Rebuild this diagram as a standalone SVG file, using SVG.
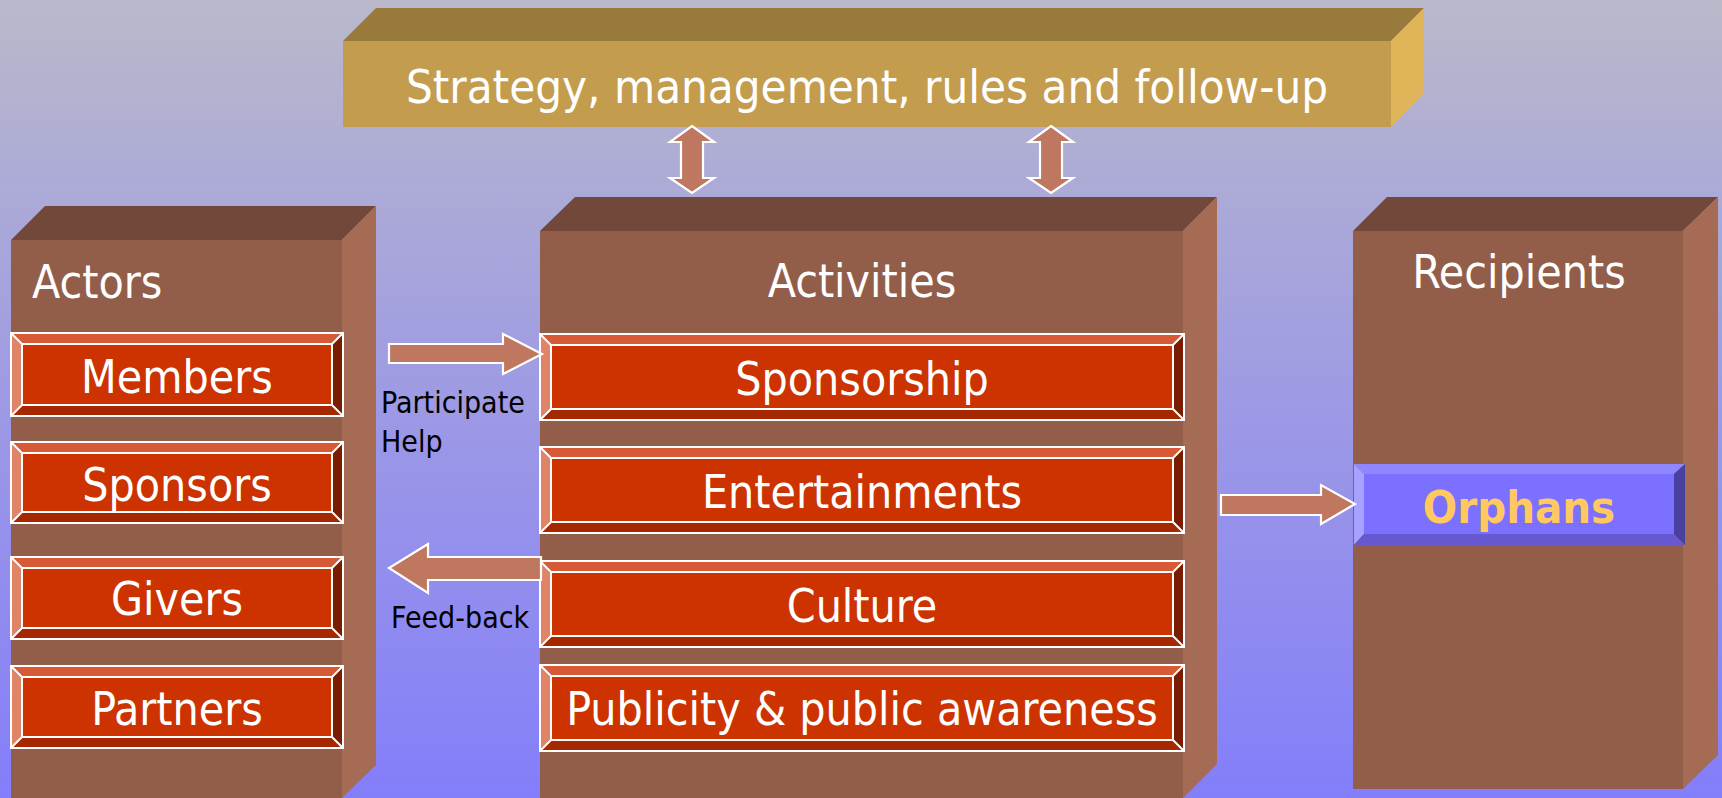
<svg xmlns="http://www.w3.org/2000/svg" width="1722" height="798" viewBox="0 0 1722 798">
<defs>
<linearGradient id="bg" x1="0" y1="0" x2="0" y2="1">
<stop offset="0" stop-color="#B9B9CA"/>
<stop offset="0.5" stop-color="#9E9AE4"/>
<stop offset="1" stop-color="#837EFA"/>
</linearGradient>
<style>
.t{font-family:"DejaVu Sans Condensed","DejaVu Sans",sans-serif;fill:#fff;}
.lbl{font-family:"DejaVu Sans Condensed","DejaVu Sans",sans-serif;fill:#000;font-size:30px;}
.bfront{fill:#925E4A;}
.btop{fill:#72483A;}
.bside{fill:#A66B55;}
.bt{fill:#D65A35;}
.bl{fill:#E08468;}
.bb{fill:#A52800;}
.br{fill:#7A1C00;}
.bc{fill:#CC3300;}
.wl{fill:none;stroke:#fff;stroke-width:2;}
.arr{fill:#BF7760;stroke:#fff;stroke-width:2.2;stroke-linejoin:miter;}
</style>
</defs>
<rect x="0" y="0" width="1722" height="798" fill="url(#bg)"/>

<g id="strategy">
<polygon points="343,41 376,8 1424,8 1391,41" fill="#977A3C"/>
<rect x="343" y="41" width="1048" height="86" fill="#C49C4E"/>
<polygon points="1391,41 1424,8 1424,93 1391,127" fill="#E0B55A"/>
<text class="t" x="867" y="103" font-size="47" text-anchor="middle">Strategy, management, rules and follow-up</text>
</g>

<g id="actors">
<polygon class="btop" points="11,240 45,206 376,206 342,240"/>
<rect class="bfront" x="11" y="240" width="331" height="558"/>
<polygon class="bside" points="342,240 376,206 376,765 342,798"/>
<text class="t" x="32" y="298" font-size="46">Actors</text>
</g>

<g id="activities">
<polygon class="btop" points="540,231 575,197 1217,197 1183,231"/>
<rect class="bfront" x="540" y="231" width="643" height="567"/>
<polygon class="bside" points="1183,231 1217,197 1217,764 1183,798"/>
<text class="t" x="862" y="297" font-size="46" text-anchor="middle">Activities</text>
</g>

<g id="recipients">
<polygon class="btop" points="1353,231 1387,197 1718,197 1683,231"/>
<rect class="bfront" x="1353" y="231" width="330" height="558"/>
<polygon class="bside" points="1683,231 1718,197 1718,755 1683,789"/>
<text class="t" x="1519" y="288" font-size="46" text-anchor="middle">Recipients</text>
</g>

<g id="members">
<polygon class="bt" points="11,333 343,333 332,344 22,344"/>
<polygon class="bl" points="11,333 22,344 22,405 11,416"/>
<polygon class="bb" points="11,416 343,416 332,405 22,405"/>
<polygon class="br" points="343,333 332,344 332,405 343,416"/>
<rect class="bc" x="22" y="344" width="310" height="61"/>
<path class="wl" d="M11,333H343V416H11Z M22,344H332V405H22Z M11,333L22,344 M343,333L332,344 M11,416L22,405 M343,416L332,405"/>
<text class="t" x="177" y="393" font-size="46" text-anchor="middle">Members</text>
</g>

<g id="sponsors">
<polygon class="bt" points="11,442 343,442 332,453 22,453"/>
<polygon class="bl" points="11,442 22,453 22,512 11,523"/>
<polygon class="bb" points="11,523 343,523 332,512 22,512"/>
<polygon class="br" points="343,442 332,453 332,512 343,523"/>
<rect class="bc" x="22" y="453" width="310" height="59"/>
<path class="wl" d="M11,442H343V523H11Z M22,453H332V512H22Z M11,442L22,453 M343,442L332,453 M11,523L22,512 M343,523L332,512"/>
<text class="t" x="177" y="501" font-size="46" text-anchor="middle">Sponsors</text>
</g>

<g id="givers">
<polygon class="bt" points="11,557 343,557 332,568 22,568"/>
<polygon class="bl" points="11,557 22,568 22,628 11,639"/>
<polygon class="bb" points="11,639 343,639 332,628 22,628"/>
<polygon class="br" points="343,557 332,568 332,628 343,639"/>
<rect class="bc" x="22" y="568" width="310" height="60"/>
<path class="wl" d="M11,557H343V639H11Z M22,568H332V628H22Z M11,557L22,568 M343,557L332,568 M11,639L22,628 M343,639L332,628"/>
<text class="t" x="177" y="615" font-size="46" text-anchor="middle">Givers</text>
</g>

<g id="partners">
<polygon class="bt" points="11,666 343,666 332,677 22,677"/>
<polygon class="bl" points="11,666 22,677 22,737 11,748"/>
<polygon class="bb" points="11,748 343,748 332,737 22,737"/>
<polygon class="br" points="343,666 332,677 332,737 343,748"/>
<rect class="bc" x="22" y="677" width="310" height="60"/>
<path class="wl" d="M11,666H343V748H11Z M22,677H332V737H22Z M11,666L22,677 M343,666L332,677 M11,748L22,737 M343,748L332,737"/>
<text class="t" x="177" y="725" font-size="46" text-anchor="middle">Partners</text>
</g>

<g id="sponsorship">
<polygon class="bt" points="540,334 1184,334 1173,345 551,345"/>
<polygon class="bl" points="540,334 551,345 551,409 540,420"/>
<polygon class="bb" points="540,420 1184,420 1173,409 551,409"/>
<polygon class="br" points="1184,334 1173,345 1173,409 1184,420"/>
<rect class="bc" x="551" y="345" width="622" height="64"/>
<path class="wl" d="M540,334H1184V420H540Z M551,345H1173V409H551Z M540,334L551,345 M1184,334L1173,345 M540,420L551,409 M1184,420L1173,409"/>
<text class="t" x="862" y="395" font-size="46" text-anchor="middle">Sponsorship</text>
</g>

<g id="entertainments">
<polygon class="bt" points="540,447 1184,447 1173,458 551,458"/>
<polygon class="bl" points="540,447 551,458 551,522 540,533"/>
<polygon class="bb" points="540,533 1184,533 1173,522 551,522"/>
<polygon class="br" points="1184,447 1173,458 1173,522 1184,533"/>
<rect class="bc" x="551" y="458" width="622" height="64"/>
<path class="wl" d="M540,447H1184V533H540Z M551,458H1173V522H551Z M540,447L551,458 M1184,447L1173,458 M540,533L551,522 M1184,533L1173,522"/>
<text class="t" x="862" y="508" font-size="46" text-anchor="middle">Entertainments</text>
</g>

<g id="culture">
<polygon class="bt" points="540,561 1184,561 1173,572 551,572"/>
<polygon class="bl" points="540,561 551,572 551,636 540,647"/>
<polygon class="bb" points="540,647 1184,647 1173,636 551,636"/>
<polygon class="br" points="1184,561 1173,572 1173,636 1184,647"/>
<rect class="bc" x="551" y="572" width="622" height="64"/>
<path class="wl" d="M540,561H1184V647H540Z M551,572H1173V636H551Z M540,561L551,572 M1184,561L1173,572 M540,647L551,636 M1184,647L1173,636"/>
<text class="t" x="862" y="622" font-size="46" text-anchor="middle">Culture</text>
</g>

<g id="publicity">
<polygon class="bt" points="540,665 1184,665 1173,676 551,676"/>
<polygon class="bl" points="540,665 551,676 551,740 540,751"/>
<polygon class="bb" points="540,751 1184,751 1173,740 551,740"/>
<polygon class="br" points="1184,665 1173,676 1173,740 1184,751"/>
<rect class="bc" x="551" y="676" width="622" height="64"/>
<path class="wl" d="M540,665H1184V751H540Z M551,676H1173V740H551Z M540,665L551,676 M1184,665L1173,676 M540,751L551,740 M1184,751L1173,740"/>
<text class="t" x="862" y="725" font-size="46" text-anchor="middle">Publicity &amp; public awareness</text>
</g>

<g id="orphans">
<polygon points="1354,464 1685,464 1674,474 1364,474" fill="#8F87FF"/>
<polygon points="1354,464 1364,474 1364,534 1354,545" fill="#A7A1FF"/>
<polygon points="1354,545 1685,545 1674,534 1364,534" fill="#6658D0"/>
<polygon points="1685,464 1674,474 1674,534 1685,545" fill="#4A40A0"/>
<rect x="1364" y="474" width="310" height="60" fill="#7B70FF"/>
<text x="1519" y="523" font-size="45" font-weight="bold" text-anchor="middle" fill="#FFC860" font-family="'DejaVu Sans Condensed','DejaVu Sans',sans-serif">Orphans</text>
</g>

<g id="connectors">
<path class="arr" d="M692,126 L714,142 H703 V178 H714 L692,193 L670,178 H681 V142 H670 Z"/>
<path class="arr" d="M1051,126 L1073,142 H1062 V178 H1073 L1051,193 L1029,178 H1040 V142 H1029 Z"/>
<path class="arr" d="M389,344 H503 V334 L542,354 L503,374 V363 H389 Z"/>
<path class="arr" d="M541,557 H428 V544 L389,568 L428,593 V580 H541 Z"/>
<path class="arr" d="M1221,495 H1321 V485 L1355,504 L1321,524 V515 H1221 Z"/>
<text class="lbl" x="381" y="413">Participate</text>
<text class="lbl" x="381" y="452">Help</text>
<text class="lbl" x="391" y="628">Feed-back</text>
</g>
</svg>
